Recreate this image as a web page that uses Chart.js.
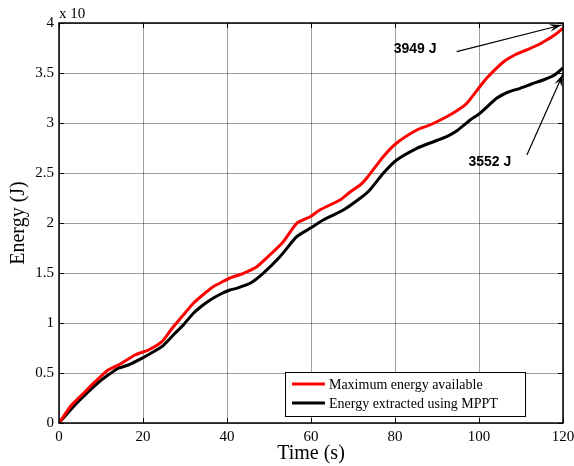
<!DOCTYPE html>
<html><head><meta charset="utf-8">
<script src="https://cdn.jsdelivr.net/npm/chart.js@4"></script>
<style>html,body{margin:0;padding:0;background:#fff}#wrap{width:574px;height:466px}</style>
</head><body><div id="wrap"><canvas id="c" width="574" height="466"></canvas></div>
<script>
const timeRed = [0,3,6.2,8.6,11.7,14.9,18.1,21.3,24.5,26.8,29.6,32,34.5,36.7,38.8,40.7,43.9,47.1,50.2,53.4,56.6,59.8,62.1,66.9,69.3,71.7,73.3,77.2,80.4,85.2,88.3,92.3,95,97.1,100.2,101.8,105.8,108.5,111.3,114,116.1,118,120];
const maxEnergy = [0,0.18,0.313,0.413,0.53,0.597,0.68,0.73,0.813,0.94,1.08,1.197,1.29,1.363,1.41,1.45,1.497,1.563,1.68,1.813,1.997,2.063,2.13,2.23,2.31,2.38,2.45,2.663,2.8,2.93,2.98,3.063,3.13,3.197,3.363,3.447,3.61,3.68,3.73,3.78,3.83,3.88,3.949];
const timeBlack = [0,3.8,7,9.5,11.7,14,16.5,19.7,22,24.5,27.6,29.6,32,34,36,38.5,40.7,42.3,45.5,48.6,52.6,56.6,59.8,62.9,67.7,71.7,74,77.2,80.4,85.2,89,92.3,95,97.9,100.2,104.2,107,109.8,112.5,115.3,118,120];
const mpptEnergy = [0,0.18,0.313,0.41,0.48,0.545,0.58,0.647,0.7,0.763,0.897,0.98,1.097,1.17,1.23,1.29,1.33,1.347,1.397,1.497,1.663,1.863,1.947,2.03,2.13,2.247,2.33,2.497,2.63,2.747,2.81,2.863,2.93,3.03,3.097,3.247,3.31,3.347,3.39,3.43,3.48,3.552];
const seriesNames = ['Maximum energy available','Energy extracted using MPPT'];
const xTicks = [0,20,40,60,80,100,120];
const yTicks = [0,0.5,1,1.5,2,2.5,3,3.5,4];
const annotations = [
  {text:'3949 J', tx:84.8, ty:3.74, fx:94.7, fy:3.713, ax:119.7, ay:3.98},
  {text:'3552 J', tx:102.6, ty:2.61, fx:111.4, fy:2.68, ax:120, ay:3.49}
];
const SERIF = '"Liberation Serif","Times New Roman",serif';

function pts(xs, ys){ return xs.map((x,i)=>({x:x,y:ys[i]})); }

const extras = {
  id:'extras',
  afterDatasetsDraw(chart){
    const ctx = chart.ctx, a = chart.chartArea, xs = chart.scales.x, ys = chart.scales.y;
    ctx.save();
    ctx.strokeStyle = '#000'; ctx.lineWidth = 1;
    ctx.beginPath();
    xTicks.forEach(v=>{ const px = Math.round(xs.getPixelForValue(v))+0.5;
      ctx.moveTo(px,a.bottom); ctx.lineTo(px,a.bottom-5); ctx.moveTo(px,a.top); ctx.lineTo(px,a.top+5); });
    yTicks.forEach(v=>{ const py = Math.round(ys.getPixelForValue(v))+0.5;
      ctx.moveTo(a.left,py); ctx.lineTo(a.left+5,py); ctx.moveTo(a.right,py); ctx.lineTo(a.right-5,py); });
    ctx.stroke();
    ctx.lineWidth = 1.5;
    ctx.strokeRect(a.left, a.top, a.right-a.left, a.bottom-a.top);
    ctx.fillStyle = '#000'; ctx.font = '15px '+SERIF; ctx.textBaseline='alphabetic'; ctx.textAlign='left';
    ctx.fillText('x 10', a.left, a.top-5);
    annotations.forEach(an=>{
      ctx.font = 'bold 14px "Liberation Sans",Arial,sans-serif';
      ctx.textAlign='center'; ctx.textBaseline='middle';
      ctx.fillText(an.text, xs.getPixelForValue(an.tx), ys.getPixelForValue(an.ty));
      const x1=xs.getPixelForValue(an.fx), y1=ys.getPixelForValue(an.fy);
      const x2=xs.getPixelForValue(an.ax), y2=ys.getPixelForValue(an.ay);
      ctx.lineWidth=1.2; ctx.beginPath(); ctx.moveTo(x1,y1); ctx.lineTo(x2,y2); ctx.stroke();
      const ang=Math.atan2(y2-y1,x2-x1), L=13, W=0.3;
      ctx.beginPath(); ctx.moveTo(x2,y2);
      ctx.lineTo(x2-L*Math.cos(ang-W), y2-L*Math.sin(ang-W));
      ctx.lineTo(x2-L*0.6*Math.cos(ang), y2-L*0.6*Math.sin(ang));
      ctx.lineTo(x2-L*Math.cos(ang+W), y2-L*Math.sin(ang+W));
      ctx.closePath(); ctx.fill();
    });
    const lx = xs.getPixelForValue(53.8), rx = xs.getPixelForValue(110.9);
    const ty = ys.getPixelForValue(0.51), by = ys.getPixelForValue(0.07);
    ctx.fillStyle='#fff'; ctx.fillRect(lx,ty,rx-lx,by-ty);
    ctx.lineWidth=1; ctx.strokeStyle='#000'; ctx.strokeRect(Math.round(lx)+0.5,Math.round(ty)+0.5,Math.round(rx-lx),Math.round(by-ty));
    chart.data.datasets.forEach((ds,i)=>{
      const yy = ty + 12 + i*19;
      ctx.strokeStyle = ds.borderColor; ctx.lineWidth=3;
      ctx.beginPath(); ctx.moveTo(lx+7,yy); ctx.lineTo(lx+40,yy); ctx.stroke();
      ctx.fillStyle='#000'; ctx.font='14px '+SERIF; ctx.textAlign='left'; ctx.textBaseline='middle';
      ctx.fillText(ds.label, lx+44, yy+1);
    });
    ctx.restore();
  }
};

new Chart(document.getElementById('c'), {
  type:'line',
  data:{ datasets:[
    {label:seriesNames[0], data:pts(timeRed,maxEnergy), borderColor:'#ff0000', borderWidth:3, pointRadius:0, tension:0.2, fill:false},
    {label:seriesNames[1], data:pts(timeBlack,mpptEnergy), borderColor:'#000000', borderWidth:3, pointRadius:0, tension:0.2, fill:false}
  ]},
  options:{
    responsive:false, animation:false, devicePixelRatio:1,
    layout:{padding:{left:0,right:11,top:23,bottom:0}},
    plugins:{legend:{display:false}, tooltip:{enabled:false}},
    scales:{
      x:{type:'linear', min:0, max:120,
        afterBuildTicks(s){ s.ticks = xTicks.map(v=>({value:v})); },
        afterFit(s){ s.height = 43; s.paddingLeft = 0; s.paddingRight = 0; },
        grid:{color:'rgba(0,0,0,0.38)', drawTicks:false},
        border:{display:false},
        ticks:{padding:5, color:'#000', font:{family:SERIF,size:15}, maxRotation:0},
        title:{display:true, text:'Time (s)', color:'#000', font:{family:SERIF,size:20}, padding:{top:0,bottom:0}}
      },
      y:{type:'linear', min:0, max:4,
        afterBuildTicks(s){ s.ticks = yTicks.map(v=>({value:v})); },
        afterFit(s){ s.width = 59; s.paddingTop = 0; s.paddingBottom = 0; },
        grid:{color:'rgba(0,0,0,0.38)', drawTicks:false},
        border:{display:false},
        ticks:{padding:5, color:'#000', font:{family:SERIF,size:15}, callback:v=>String(v)},
        title:{display:true, text:'Energy (J)', color:'#000', font:{family:SERIF,size:20}, padding:{top:7,bottom:0}}
      }
    }
  },
  plugins:[extras]
});
</script></body></html>
